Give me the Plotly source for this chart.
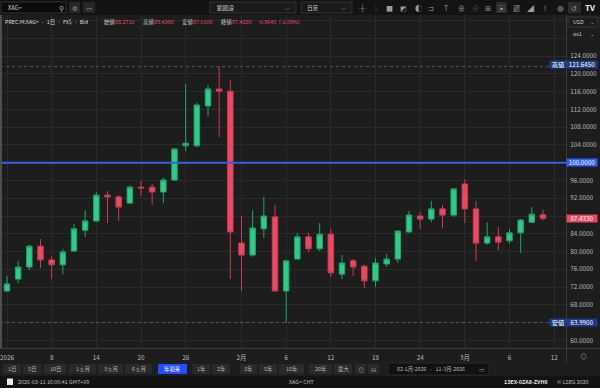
import plotly.graph_objects as go
import pandas as pd

# ---------------- data ----------------
dates = list(pd.bdate_range("2026-01-02", "2026-03-11"))
axis_days = list(pd.bdate_range("2026-01-02", "2026-03-12"))

opens = [71.1, 73.8, 76.5, 81.2, 78.1, 77.0, 80.1, 84.8, 86.9, 92.7,
         92.3, 90.9, 94.5, 94.5, 93.4, 96.1, 103.8, 103.8, 112.8, 116.6,
         116.1, 81.9, 79.2, 85.1, 87.8, 71.1, 78.3, 83.3, 80.6, 83.9,
         74.9, 77.9, 76.7, 73.4, 77.2, 78.3, 84.4, 88.0, 87.3, 89.6,
         88.2, 95.2, 89.6, 81.9, 83.3, 82.4, 84.2, 86.6, 88.271]
highs = [74.5, 77.9, 81.5, 82.8, 79.0, 80.6, 86.2, 89.3, 93.4, 93.6,
         92.7, 94.8, 95.9, 95.2, 96.6, 103.3, 117.7, 113.5, 117.5, 121.645,
         118.6, 88.0, 89.3, 92.3, 90.5, 78.0, 84.2, 84.2, 86.4, 85.1,
         79.2, 78.3, 77.0, 78.5, 79.4, 84.8, 89.1, 88.9, 91.4, 90.5,
         94.3, 96.3, 91.4, 86.6, 85.5, 85.1, 87.3, 90.0, 89.43]
lows = [70.9, 72.9, 75.8, 76.3, 73.8, 74.9, 79.9, 83.3, 86.6, 86.4,
        86.9, 90.7, 92.5, 90.5, 90.9, 95.9, 102.6, 103.5, 110.5, 105.8,
        73.8, 71.1, 78.8, 83.0, 71.0, 63.99, 78.1, 79.9, 80.1, 74.3,
        73.8, 74.5, 71.8, 72.0, 76.5, 77.4, 84.2, 85.1, 86.6, 85.3,
        87.8, 86.4, 77.9, 81.5, 80.3, 81.7, 79.7, 86.4, 87.01]
closes = [72.7, 76.5, 81.2, 78.1, 77.0, 79.9, 85.1, 86.9, 92.7, 92.3,
          90.0, 94.5, 94.3, 93.4, 96.1, 103.1, 104.4, 113.0, 116.6, 116.1,
          84.4, 79.2, 85.3, 88.0, 71.1, 77.9, 83.3, 80.6, 83.9, 75.2,
          77.4, 76.5, 73.4, 77.4, 78.3, 84.6, 88.2, 87.3, 89.6, 88.2,
          94.1, 89.6, 81.9, 83.3, 82.1, 84.2, 87.1, 88.4, 87.433]

xtick_dates = ["2026-01-02", "2026-01-08", "2026-01-14", "2026-01-20", "2026-01-26",
               "2026-02-02", "2026-02-06", "2026-02-12", "2026-02-18", "2026-02-24",
               "2026-03-02", "2026-03-06", "2026-03-12"]
xtick_labels = ["2026", "8", "14", "20", "26", "2月", "6", "12", "18", "24", "3月", "6", "12"]

ytick_vals = [60, 64, 68, 72, 76, 80, 84, 88, 92, 96, 100, 104, 108, 112, 116, 120, 124, 128, 132]
ytick_labels = ["60.0000", "", "68.0000", "72.0000", "76.0000", "80.0000", "84.0000", "",
                "92.0000", "96.0000", "", "104.0000", "108.0000", "112.0000", "116.0000",
                "120.0000", "124.0000", "", ""]

ref_level = 100.0
change_abs = -0.9645
change_pct = -1.09
range_buttons = ["1日", "5日", "10日", "1ヵ月", "3ヵ月", "6ヵ月", "年初来", "1年", "2年",
                 "3年", "5年", "10年", "20年", "最大"]

# ---------------- geometry helpers ----------------
W, H = 600, 388
ML, MR, MT, MB = 0, 34, 15, 40
PW = W - ML - MR
PH = H - MT - MB
PB = H - MB

FONT = "Noto Sans CJK JP, Noto Sans, DejaVu Sans, sans-serif"
BG = "#1d1d1d"
GRID = "#2a2a2a"
TXT = "#b9b9b9"
RED = "#ec4a64"
GREEN = "#2ecc87"

shapes = []
annotations = []


def fx(x):
    return (x - ML) / PW


def fy(y):
    return (PB - y) / PH


def rect(x0, y0, x1, y1, fill, line=None, lw=1):
    shapes.append(dict(type="rect", xref="paper", yref="paper",
                       x0=fx(x0), x1=fx(x1), y0=fy(y1), y1=fy(y0),
                       fillcolor=fill,
                       line=dict(color=line if line else fill, width=lw if line else 0),
                       layer="above"))


def hline_px(x0, x1, y, color, w=1):
    shapes.append(dict(type="line", xref="paper", yref="paper", x0=fx(x0), x1=fx(x1),
                       y0=fy(y), y1=fy(y), line=dict(color=color, width=w), layer="above"))


def vline_px(x, y0, y1, color, w=1):
    shapes.append(dict(type="line", xref="paper", yref="paper", x0=fx(x), x1=fx(x),
                       y0=fy(y0), y1=fy(y1), line=dict(color=color, width=w), layer="above"))


def text(x, y, s, size=5.8, color=TXT, xanchor="left", family=FONT):
    annotations.append(dict(xref="paper", yref="paper", x=fx(x), y=fy(y), text=s,
                            showarrow=False, xanchor=xanchor, yanchor="middle",
                            borderpad=0, font=dict(size=size, color=color, family=family)))


def badge(x0, x1, yval, s, bg, fg="#ffffff", size=6.2, shift=0):
    annotations.append(dict(xref="paper", yref="y", x=fx((x0 + x1) / 2), y=yval,
                            xanchor="center", yanchor="middle", text=s, showarrow=False,
                            bgcolor=bg, width=x1 - x0, height=7, borderpad=0, yshift=shift,
                            font=dict(size=size, color=fg, family=FONT)))


# ---------------- figure ----------------
xpos = [axis_days.index(d) for d in dates]
xtick_pos = [axis_days.index(pd.Timestamp(d)) for d in xtick_dates]

fig = go.Figure()
fig.add_trace(go.Candlestick(
    x=xpos, open=opens, high=highs, low=lows, close=closes,
    increasing=dict(line=dict(color="#22a36a", width=1), fillcolor=GREEN),
    decreasing=dict(line=dict(color="#c83d55", width=1), fillcolor=RED),
    whiskerwidth=0, showlegend=False, hoverinfo="skip"))

# reference / high / low lines
hi_val = max(highs)
lo_val = min(lows)
shapes.append(dict(type="line", xref="paper", yref="y", x0=0, x1=1, y0=hi_val, y1=hi_val,
                   line=dict(color="#555555", width=1, dash="dot"), layer="above"))
shapes.append(dict(type="line", xref="paper", yref="y", x0=0, x1=1, y0=lo_val, y1=lo_val,
                   line=dict(color="#555555", width=1, dash="dot"), layer="above"))
shapes.append(dict(type="line", xref="paper", yref="y", x0=0, x1=1, y0=ref_level, y1=ref_level,
                   line=dict(color="#2f62ee", width=2), layer="above"))

# separators
vline_px(1, 15, 348, "#4e4e4e", 2)
hline_px(0, 600, 348.5, "#3a3a3a", 1)
vline_px(566.5, 15, 363, "#3a3a3a", 1)

# top toolbar
rect(0, 0, 600, 15, "#131313")
rect(1, 2, 66, 13, "#0b0b0b", "#3a3a3a", 0.8)
text(7, 7.5, "XAG=", 5.6, "#d0d0d0")
text(61, 7.5, "⚲", 7, "#bbbbbb", "center")
rect(69, 2, 80, 13, "#262626")
text(74.5, 7.5, "⚙", 6.5, "#9a9a9a", "center")
rect(83, 2, 95, 13, "#262626")
text(89, 7.5, "▭", 6.5, "#9a9a9a", "center")
rect(210, 2, 296, 13, "#1a1a1a", "#3a3a3a", 0.8)
text(216, 7.5, "範囲設", 5.6, "#cfcfcf")
text(287, 7.5, "⌵", 6, "#aaaaaa", "center")
rect(301, 2, 352, 13, "#1a1a1a", "#3a3a3a", 0.8)
text(306, 7.5, "日足", 5.6, "#cfcfcf")
text(343, 7.5, "⌵", 6, "#aaaaaa", "center")
icons = [(362, "╫"), (376, "⫶"), (389, "■"), (403, "◩"), (418, "◐"), (431, "⊐"),
         (446, "T"), (461, "⊕"), (475, "⊖"), (488, "⊞"), (501, "▣"), (516, "▨"),
         (530, "◢"), (545, "!"), (560, "●"), (574, "↺")]
rect(496, 2, 507, 13, "#2a2a2a")
rect(568, 2, 581, 13, "#2a2a2a")
for ix, g in icons:
    col = "#555555" if g in ("⊖", "●") else "#9c9c9c"
    text(ix, 7.5, g, 7, col, "center")
text(590, 7.5, "<b>TV</b>", 8, "#f2f2f2", "center")

# info row
text(4, 22, "PREC:M:XAG=  ·  1日  ·  FX$  ·  Bid", 5.4, "#d6d6d6")
fields = [(103, "始値", opens[-1]), (142, "高値", highs[-1]), (181, "安値", lows[-1]),
          (220, "終値", closes[-1])]
for x0, lab, val in fields:
    text(x0, 22, lab, 5.4, "#d0d0d0")
    text(x0 + 11, 22, f"{val:.4f}", 5.4, RED)
text(257, 22, f"{change_abs:.4f}  ({change_pct:.2f}%)", 5.4, RED)

# right column controls
rect(568, 17, 598, 27, "#1c1c1c", "#3c3c3c", 0.8)
text(572, 22, "USD", 5.4, "#cfcfcf")
text(593, 22, "⌄", 5.5, "#999999", "center")
rect(568, 28.5, 598, 38.5, BG)
text(572, 33.5, "ox1", 5.4, "#cfcfcf")
text(593, 33.5, "⌄", 5.5, "#999999", "center")

# price badges
badge(550, 566, hi_val, "高値", "#1e3c86", shift=2)
badge(567, 597, hi_val, f"{hi_val:.4f}", "#1e3c86", shift=2)
badge(567, 597, ref_level, f"{ref_level:.4f}", "#2962ff")
badge(567, 597, closes[-1], f"{closes[-1]:.4f}", "#e8475f")
badge(550, 566, lo_val, "安値", "#1e3c86")
badge(567, 597, lo_val, f"{lo_val:.4f}", "#1e3c86")

# bottom-right reset icon
text(583, 356, "⊙", 7, "#9a9a9a", "center")

# range buttons row
btn_pos = [(3, 21), (23, 41), (44, 66), (69, 96), (98, 123), (125, 152), (158, 187),
           (192, 210), (212, 230), (240, 257), (259, 277), (279, 304), (309, 332), (334, 352)]
for (x0, x1), lab in zip(btn_pos, range_buttons):
    active = lab == "年初来"
    rect(x0, 364, x1, 374, "#1f4fff" if active else "#2a2a2a")
    text((x0 + x1) / 2, 369, lab, 5.4, "#ffffff" if active else "#b5b5b5", "center")
rect(355, 364, 366, 374, "#2a2a2a")
text(360.5, 369, "⊙", 6, "#a0a0a0", "center")
rect(368, 364, 379, 374, "#2a2a2a")
text(373.5, 369, "⊟", 6, "#a0a0a0", "center")
rect(388, 363, 489, 375, "#111111", "#2e2e2e", 0.8)
text(431, 369, f"{dates[0].day:02d}-1月-2026   -   {dates[-1].day:02d}-3月-2026", 5.3, "#bdbdbd", "center")
text(482, 369, "▭", 6, "#a0a0a0", "center")

# status bar
rect(0, 376, 600, 388, "#131313")
rect(7, 378.5, 13, 385, "#e8e8e8")
text(17, 382, "2026-03-11 16:00:41 GMT+09", 5.4, "#bdbdbd")
text(288, 382, "XAG= CHT", 5.4, "#bdbdbd")
text(503, 382, "<b>13EX-0ZA8-ZVH6</b>", 5.4, "#e0e0e0")
text(556, 382, "© LSEG 2026", 5.4, "#bdbdbd")

fig.update_layout(
    width=W, height=H,
    margin=dict(l=ML, r=MR, t=MT, b=MB, pad=0),
    paper_bgcolor=BG, plot_bgcolor=BG,
    showlegend=False,
    font=dict(family=FONT, size=6.3, color=TXT),
    shapes=shapes, annotations=annotations,
)
fig.update_xaxes(
    range=[-0.627, 50.06], tickmode="array", tickvals=xtick_pos, ticktext=xtick_labels,
    showgrid=True, gridcolor=GRID, gridwidth=1, zeroline=False, showline=False,
    ticks="outside", ticklen=3, tickcolor="rgba(0,0,0,0)",
    tickfont=dict(size=6.3, color=TXT, family=FONT),
    rangeslider=dict(visible=False), fixedrange=True)
fig.update_yaxes(
    side="right", range=[58.27, 133.27], tickmode="array", tickvals=ytick_vals,
    ticktext=ytick_labels, showgrid=True, gridcolor=GRID, gridwidth=1,
    zeroline=False, showline=False, ticks="outside", ticklen=2, tickcolor="rgba(0,0,0,0)",
    tickfont=dict(size=6.3, color=TXT, family=FONT), fixedrange=True)

fig.write_html("out.html", config={"displayModeBar": False})
